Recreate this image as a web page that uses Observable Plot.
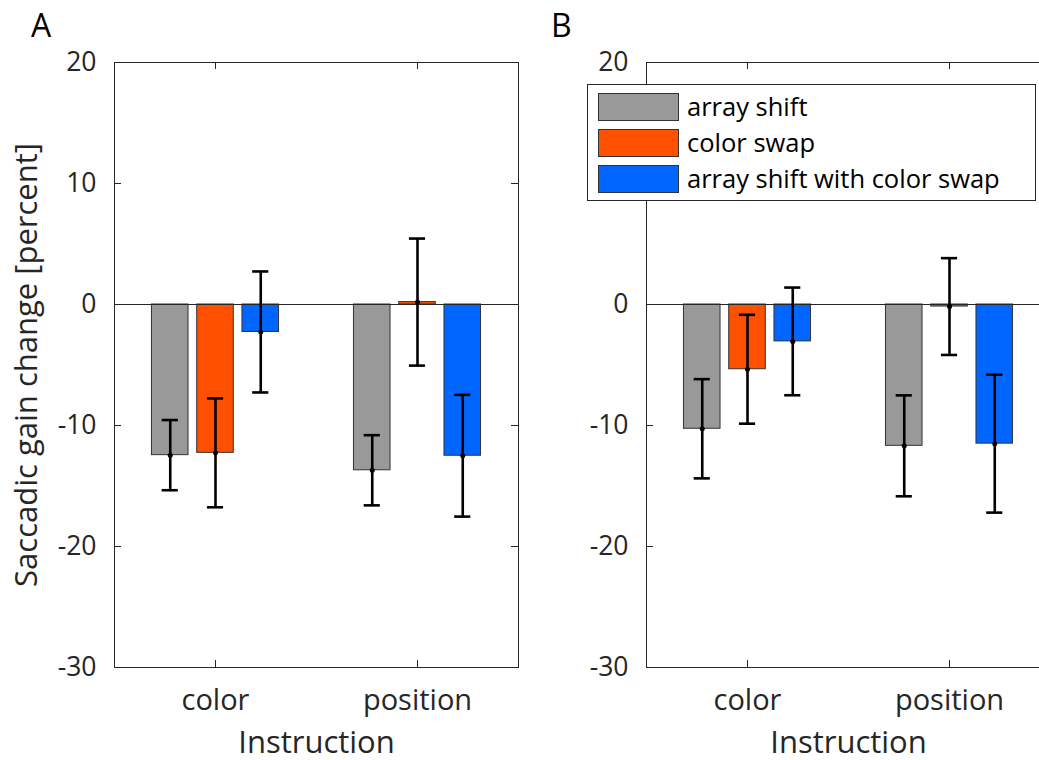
<!DOCTYPE html>
<html>
<head>
<meta charset="utf-8">
<script src="https://cdn.jsdelivr.net/npm/d3@7"></script>
<script src="https://cdn.jsdelivr.net/npm/@observablehq/plot@0.6"></script>
<style>
  html, body { margin: 0; padding: 0; background: #fff; overflow: hidden; }
  #wrap { position: relative; width: 1039px; height: 760px; overflow: hidden; font-family: "Open Sans", sans-serif; }
  .panel { position: absolute; top: 0; width: 540px; }
  .panel svg { max-width: none !important; }
  .letter { position: absolute; font-size: 32px; color: #000; line-height: 1; }
  #legend { position: absolute; left: 587px; top: 84px; width: 447px; height: 115px; border: 1px solid #262626; background: #fff; }
  .lrow { position: absolute; left: 10px; height: 28px; }
  .sw { position: absolute; left: 0; top: 0; width: 79px; height: 26px; border: 1px solid #333; }
  .lt { position: absolute; left: 89px; top: -1px; height: 28px; line-height: 28px; font-size: 25.5px; color: #000; white-space: nowrap; }
</style>
</head>
<body>
<div id="wrap">
  <div class="panel" id="pA" style="left:0px"></div>
  <div class="panel" id="pB" style="left:530px"></div>
  <div class="letter" style="left:31px; top:9px">A</div>
  <div class="letter" style="left:551px; top:9px">B</div>
  <div id="legend"></div>
</div>
<script>
// ---- data ----
const instructions = ["color", "position"];
const conditions = ["array shift", "color swap", "array shift with color swap"];
const yTicks = [-30, -20, -10, 0, 10, 20];

// Panel A: rows = instruction, columns = condition
const meanA = [[-12.45, -12.26, -2.27], [-13.7, 0.2, -12.5]];
const errA  = [[2.9, 4.5, 5.0], [2.9, 5.25, 5.03]];
// Panel B
const meanB = [[-10.27, -5.35, -3.05], [-11.68, -0.17, -11.5]];
const errB  = [[4.1, 4.5, 4.45], [4.17, 4.0, 5.7]];

// ---- styles ----
const barColors = ["#999999", "#ff5000", "#0066ff"];
const axisColor = "#262626";
const GROUP_OFFSET = 0.224;
const BAR_W = 0.181;
const CAP = 0.04;

function rowsFor(means, errs) {
  const rows = [];
  instructions.forEach((ins, i) => conditions.forEach((c, j) => {
    rows.push({ins, cond: c, xc: i + 1 + (j - 1) * GROUP_OFFSET, mean: means[i][j], err: errs[i][j]});
  }));
  return rows;
}

function panel(means, errs, {width, marginLeft, marginRight, ylabel}) {
  const marginTop = 62, marginBottom = 93, height = 760;
  const pw = width - marginLeft - marginRight;
  const ph = height - marginTop - marginBottom;
  const rows = rowsFor(means, errs);
  const tl = 7;
  const marks = [
    Plot.axisY({ticks: yTicks, tickSize: 0, tickPadding: 18, tickFormat: d => String(d), label: null, fontSize: 26.5, fill: axisColor}),
    Plot.axisX({ticks: [1, 2], tickSize: 0, tickPadding: 22, tickFormat: d => instructions[d - 1], label: null, fontSize: 29, fill: axisColor}),
    Plot.rect(rows, {x1: d => d.xc - BAR_W / 2, x2: d => d.xc + BAR_W / 2, y1: 0, y2: "mean", fill: "cond", stroke: "#333", strokeWidth: 1}),
    Plot.ruleY([0], {stroke: axisColor, strokeWidth: 1}),
    Plot.ruleX(rows, {x: "xc", y1: d => d.mean - d.err, y2: d => d.mean + d.err, stroke: "#000", strokeWidth: 2.6}),
    Plot.ruleY(rows, {x1: d => d.xc - CAP, x2: d => d.xc + CAP, y: d => d.mean - d.err, stroke: "#000", strokeWidth: 2.6}),
    Plot.ruleY(rows, {x1: d => d.xc - CAP, x2: d => d.xc + CAP, y: d => d.mean + d.err, stroke: "#000", strokeWidth: 2.6}),
    Plot.dot(rows, {x: "xc", y: "mean", r: 2.5, fill: "#000"}),
    Plot.ruleY(yTicks, {insetRight: pw - tl, stroke: axisColor}),
    Plot.ruleY(yTicks, {insetLeft: pw - tl, stroke: axisColor}),
    Plot.ruleX([1, 2], {insetBottom: ph - tl, stroke: axisColor}),
    Plot.ruleX([1, 2], {insetTop: ph - tl, stroke: axisColor}),
    Plot.frame({stroke: axisColor, strokeWidth: 1}),
    Plot.text(["Instruction"], {frameAnchor: "bottom", dy: 85, fontSize: 31, fill: axisColor})
  ];
  if (ylabel) {
    marks.push(Plot.text([ylabel], {frameAnchor: "left", textAnchor: "middle", rotate: -90, dx: -87, fontSize: 31, fill: axisColor}));
  }
  return Plot.plot({
    width, height, marginLeft, marginRight, marginTop, marginBottom,
    style: {fontFamily: "Open Sans, sans-serif", background: "transparent", overflow: "visible", maxWidth: "none"},
    x: {domain: [0.5, 2.5]},
    y: {domain: [-30, 20]},
    color: {domain: conditions, range: barColors},
    marks
  });
}

document.getElementById("pA").appendChild(panel(meanA, errA, {width: 530, marginLeft: 114, marginRight: 12, ylabel: "Saccadic gain change [percent]"}));
document.getElementById("pB").appendChild(panel(meanB, errB, {width: 540, marginLeft: 116, marginRight: 20}));

// legend
const leg = document.getElementById("legend");
conditions.forEach((c, j) => {
  const row = document.createElement("div");
  row.className = "lrow";
  row.style.top = (8 + j * 36) + "px";
  const sw = document.createElement("div");
  sw.className = "sw";
  sw.style.background = barColors[j];
  const t = document.createElement("div");
  t.className = "lt";
  t.textContent = c;
  row.appendChild(sw); row.appendChild(t);
  leg.appendChild(row);
});
</script>
</body>
</html>
